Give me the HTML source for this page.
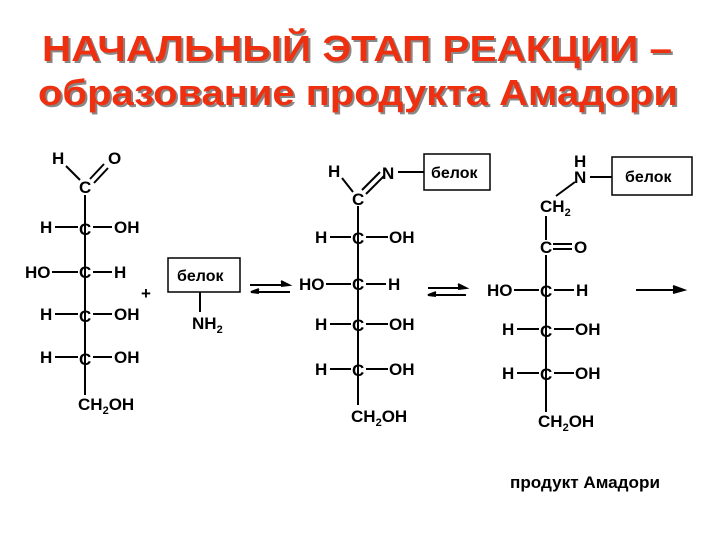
<!DOCTYPE html>
<html><head><meta charset="utf-8"><style>
body{margin:0;background:#fff;}
svg{display:block;}
.t{font-family:"Liberation Sans",sans-serif;font-weight:bold;fill:#ee3010;font-size:36px;}
.s{font-family:"Liberation Sans",sans-serif;font-weight:bold;fill:#888;font-size:36px;}
text.a{font-family:"Liberation Sans",sans-serif;font-weight:bold;font-size:17px;fill:#000;}
text.b{font-family:"Liberation Sans",sans-serif;font-weight:bold;font-size:16px;fill:#000;}
text.p{font-family:"Liberation Sans",sans-serif;font-weight:bold;font-size:17px;fill:#000;}
line,polyline{stroke:#000;stroke-width:2;}
rect{fill:#fff;stroke:#000;stroke-width:1.5;}
</style></head><body>
<svg width="720" height="540" viewBox="0 0 720 540">
<text class="s" x="44" y="63" textLength="630" lengthAdjust="spacingAndGlyphs">НАЧАЛЬНЫЙ ЭТАП РЕАКЦИИ –</text>
<text class="t" x="42" y="61" textLength="630" lengthAdjust="spacingAndGlyphs">НАЧАЛЬНЫЙ ЭТАП РЕАКЦИИ –</text>
<text class="s" x="40" y="107" textLength="640" lengthAdjust="spacingAndGlyphs">образование продукта Амадори</text>
<text class="t" x="38" y="105" textLength="640" lengthAdjust="spacingAndGlyphs">образование продукта Амадори</text>

<!-- Structure 1 -->
<g>
<text class="a" x="52" y="164">H</text><text class="a" x="108" y="164">O</text>
<line x1="66" y1="166" x2="80" y2="180"/>
<line x1="90" y1="179" x2="104" y2="164"/><line x1="94" y1="183" x2="108" y2="168"/>
<text class="a" x="79" y="193">C</text>
<line x1="85" y1="195" x2="85" y2="372"/>
<text class="a" x="79" y="235">C</text><text class="a" x="40" y="233">H</text><line x1="55" y1="227" x2="78" y2="227"/><line x1="93" y1="227" x2="112" y2="227"/><text class="a" x="114" y="233">OH</text>
<text class="a" x="79" y="278">C</text><text class="a" x="25" y="278">HO</text><line x1="52" y1="272" x2="78" y2="272"/><line x1="93" y1="272" x2="112" y2="272"/><text class="a" x="114" y="278">H</text>
<text class="a" x="79" y="322">C</text><text class="a" x="40" y="320">H</text><line x1="55" y1="314" x2="78" y2="314"/><line x1="93" y1="314" x2="112" y2="314"/><text class="a" x="114" y="320">OH</text>
<text class="a" x="79" y="365">C</text><text class="a" x="40" y="363">H</text><line x1="55" y1="357" x2="78" y2="357"/><line x1="93" y1="357" x2="112" y2="357"/><text class="a" x="114" y="363">OH</text>
<line x1="85" y1="372" x2="85" y2="395"/>
<text class="a" x="78" y="410">CH<tspan font-size="11" dy="4">2</tspan><tspan dy="-4">OH</tspan></text>
<text class="a" x="141" y="299">+</text>
<rect x="168" y="258" width="72" height="34"/>
<text class="b" x="177" y="281">белок</text>
<line x1="200" y1="292" x2="200" y2="312"/>
<text class="a" x="192" y="329">NH<tspan font-size="11" dy="4">2</tspan></text>
</g>
<line x1="250" y1="285" x2="288" y2="285" stroke-width="1.5"/><polyline points="281,281 289,285 281,286" fill="#000" stroke-width="1"/>
<line x1="252" y1="292" x2="290" y2="292" stroke-width="1.5"/><polyline points="259,289 251,292 259,293" fill="#000" stroke-width="1"/>

<!-- Structure 2 -->
<g>
<text class="a" x="328" y="177">H</text><text class="a" x="382" y="179">N</text>
<line x1="342" y1="178" x2="353" y2="192"/>
<line x1="362" y1="190" x2="380" y2="172"/><line x1="366" y1="194" x2="384" y2="176"/>
<line x1="398" y1="172" x2="424" y2="172"/>
<rect x="424" y="154" width="66" height="36"/>
<text class="b" x="431" y="178">белок</text>
<text class="a" x="352" y="205">C</text>
<line x1="358" y1="206" x2="358" y2="405"/>
<text class="a" x="352" y="244">C</text><text class="a" x="315" y="243">H</text><line x1="330" y1="237" x2="351" y2="237"/><line x1="366" y1="237" x2="388" y2="237"/><text class="a" x="389" y="243">OH</text>
<text class="a" x="352" y="290">C</text><text class="a" x="299" y="290">HO</text><line x1="326" y1="284" x2="351" y2="284"/><line x1="366" y1="284" x2="386" y2="284"/><text class="a" x="388" y="290">H</text>
<text class="a" x="352" y="331">C</text><text class="a" x="315" y="330">H</text><line x1="330" y1="324" x2="351" y2="324"/><line x1="366" y1="324" x2="388" y2="324"/><text class="a" x="389" y="330">OH</text>
<text class="a" x="352" y="376">C</text><text class="a" x="315" y="375">H</text><line x1="330" y1="369" x2="351" y2="369"/><line x1="366" y1="369" x2="388" y2="369"/><text class="a" x="389" y="375">OH</text>
<text class="a" x="351" y="422">CH<tspan font-size="11" dy="4">2</tspan><tspan dy="-4">OH</tspan></text>
</g>
<line x1="428" y1="288" x2="465" y2="288" stroke-width="1.5"/><polyline points="458,284 466,288 458,289" fill="#000" stroke-width="1"/>
<line x1="429" y1="295" x2="466" y2="295" stroke-width="1.5"/><polyline points="436,292 428,295 436,296" fill="#000" stroke-width="1"/>

<!-- Structure 3 -->
<g>
<text class="a" x="574" y="167">H</text><text class="a" x="574" y="183">N</text>
<line x1="590" y1="177" x2="612" y2="177"/>
<rect x="612" y="157" width="80" height="38"/>
<text class="b" x="625" y="182">белок</text>
<line x1="575" y1="182" x2="556" y2="196"/>
<text class="a" x="540" y="212">CH<tspan font-size="11" dy="4">2</tspan></text>
<line x1="546" y1="216" x2="546" y2="240"/>
<text class="a" x="540" y="253">C</text>
<line x1="553" y1="244" x2="572" y2="244"/><line x1="553" y1="249" x2="572" y2="249"/>
<text class="a" x="574" y="253">O</text>
<line x1="546" y1="255" x2="546" y2="412"/>
<text class="a" x="540" y="297">C</text><text class="a" x="487" y="296">HO</text><line x1="514" y1="290" x2="539" y2="290"/><line x1="554" y1="290" x2="574" y2="290"/><text class="a" x="576" y="296">H</text>
<text class="a" x="540" y="337">C</text><text class="a" x="502" y="335">H</text><line x1="517" y1="329" x2="539" y2="329"/><line x1="554" y1="329" x2="574" y2="329"/><text class="a" x="575" y="335">OH</text>
<text class="a" x="540" y="380">C</text><text class="a" x="502" y="379">H</text><line x1="517" y1="373" x2="539" y2="373"/><line x1="554" y1="373" x2="574" y2="373"/><text class="a" x="575" y="379">OH</text>
<text class="a" x="538" y="427">CH<tspan font-size="11" dy="4">2</tspan><tspan dy="-4">OH</tspan></text>
</g>
<line x1="636" y1="290" x2="678" y2="290" stroke-width="1.5"/><polyline points="673,286 684,290 673,293" fill="#000" stroke-width="1"/>
<text class="p" x="510" y="488" textLength="150" lengthAdjust="spacingAndGlyphs">продукт Амадори</text>
</svg>
</body></html>
